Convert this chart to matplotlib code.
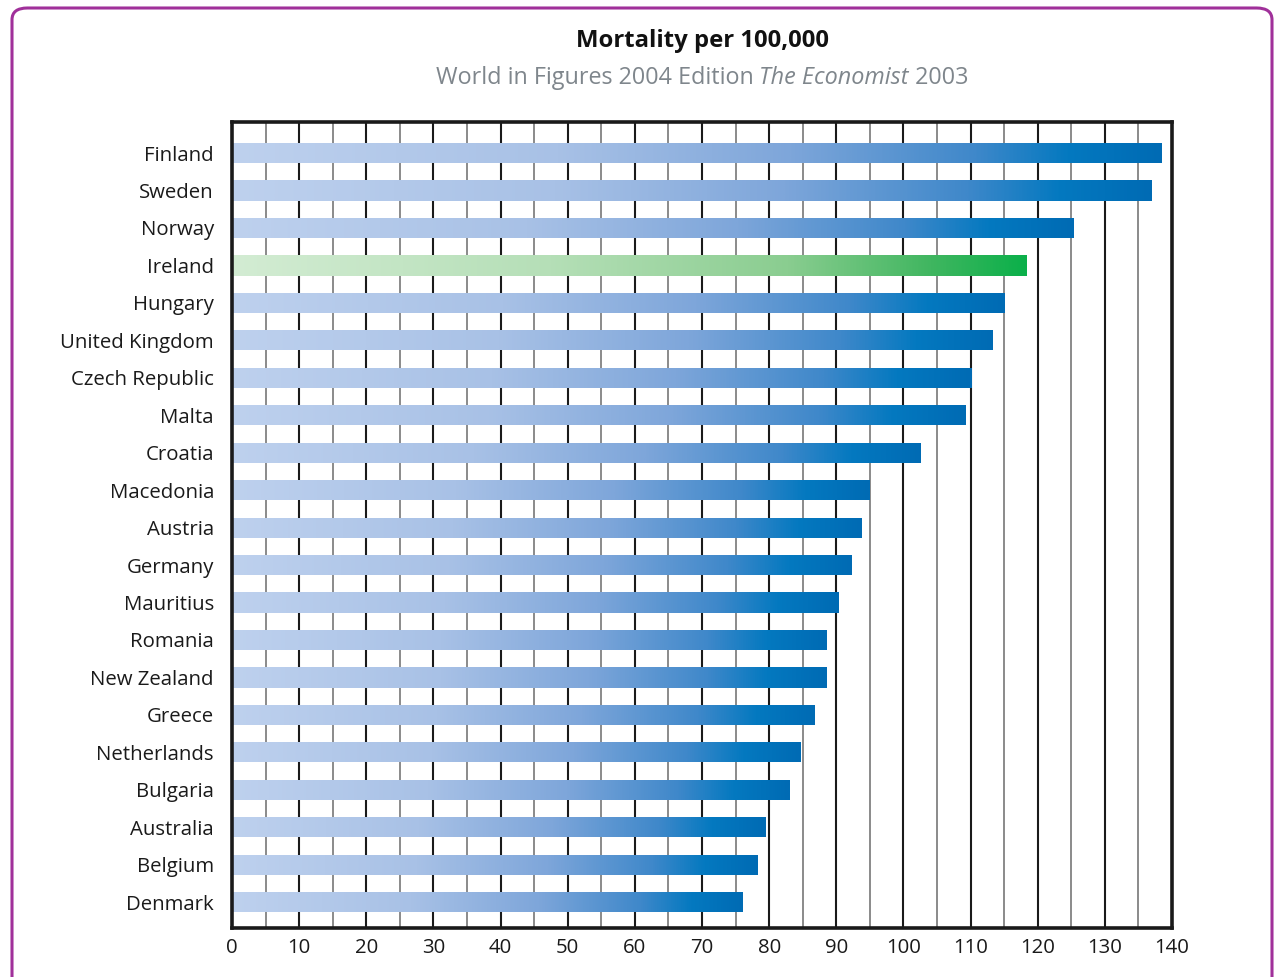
import numpy as np
import matplotlib
matplotlib.use("Agg")
import matplotlib.pyplot as plt
from matplotlib.colors import LinearSegmentedColormap
from matplotlib.patches import FancyBboxPatch

countries = ["Finland", "Sweden", "Norway", "Ireland", "Hungary", "United Kingdom",
             "Czech Republic", "Malta", "Croatia", "Macedonia", "Austria", "Germany",
             "Mauritius", "Romania", "New Zealand", "Greece", "Netherlands", "Bulgaria",
             "Australia", "Belgium", "Denmark"]
values = [138.5, 136.9, 125.3, 118.4, 115.0, 113.2, 110.2, 109.3, 102.5, 95.0, 93.7,
          92.2, 90.4, 88.5, 88.5, 86.7, 84.7, 83.1, 79.4, 78.3, 76.1]
highlight = "Ireland"
xticks = list(range(0, 141, 10))

plt.rcParams['font.family'] = ['Open Sans', 'DejaVu Sans']

W, H = 1283, 977
fig = plt.figure(figsize=(W / 100, H / 100), dpi=100)
fig.patch.set_facecolor("white")

# purple rounded frame
frame = FancyBboxPatch((12 / W, -0.05), (1272 - 12) / W, (H - 8) / H + 0.05,
                       boxstyle="round,pad=0,rounding_size=0.012",
                       transform=fig.transFigure, fill=False,
                       edgecolor="#a0309a", linewidth=2.2, zorder=0)
fig.patches.append(frame)

left, right, top, bottom = 232, 1172, 122, 928
ax = fig.add_axes([left / W, 1 - bottom / H, (right - left) / W, (bottom - top) / H])

n = len(countries)
ypos = np.arange(n)

blue = LinearSegmentedColormap.from_list("blue", [
    (0.0, "#bed1ee"), (0.35, "#a8c1e6"), (0.6, "#7ea6da"),
    (0.8, "#3f88ca"), (0.9, "#0479c0"), (1.0, "#006bb4")])
green = LinearSegmentedColormap.from_list("green", [
    (0.0, "#d3ecd3"), (0.4, "#b5dfb7"), (0.7, "#8acd90"),
    (0.88, "#40b660"), (1.0, "#0bb04a")])

# grid lines
for x in range(5, 140, 5):
    if x % 10 == 0:
        ax.axvline(x, color="#1a1a1a", lw=1.5, zorder=1)
    else:
        ax.axvline(x, color="#8a8a8a", lw=1.4, zorder=1)

bar_h = 0.54
bars = ax.barh(ypos, values, height=bar_h, color="none", edgecolor="none", zorder=2)
grad = np.linspace(0, 1, 512).reshape(1, -1)
for bar, c, v, y in zip(bars, countries, values, ypos):
    cmap = green if c == highlight else blue
    im = ax.imshow(grad, cmap=cmap, aspect="auto", interpolation="bilinear",
                   extent=(0, v, y + bar_h / 2, y - bar_h / 2), zorder=2)
    im.set_clip_path(bar)

ax.set_xlim(0, 140)
ax.set_ylim(n - 1 + 0.69, -0.83)
ax.set_yticks(ypos)
ax.set_yticklabels(countries, fontsize=14.7, color="#1a1a1a")
ax.set_xticks(xticks)
ax.set_xticklabels([str(t) for t in xticks], fontsize=14.7, color="#1a1a1a")
ax.tick_params(axis="both", length=0)
ax.tick_params(axis="y", pad=13)
ax.tick_params(axis="x", pad=7)
for s in ax.spines.values():
    s.set_linewidth(2.6)
    s.set_color("#1a1a1a")
ax.set_facecolor("white")

# titles
fig.text(702 / W, 1 - 41 / H, "Mortality per 100,000", ha="center", va="center",
         fontsize=17.2, fontweight="bold", color="#111111")

parts = [("World in Figures 2004 Edition ", "normal"),
         ("The Economist", "italic"),
         (" 2003", "normal")]
renderer = fig.canvas.get_renderer()
texts = []
for s, st in parts:
    t = fig.text(0, 1 - 78 / H, s, ha="left", va="center", fontsize=16.8,
                 style=st, color="#7f868c")
    texts.append(t)
widths = [t.get_window_extent(renderer).width for t in texts]
total = sum(widths)
x0 = 702 - total / 2
for t, w in zip(texts, widths):
    t.set_x(x0 / W)
    x0 += w

fig.savefig("out.png", dpi=100, facecolor="white")
